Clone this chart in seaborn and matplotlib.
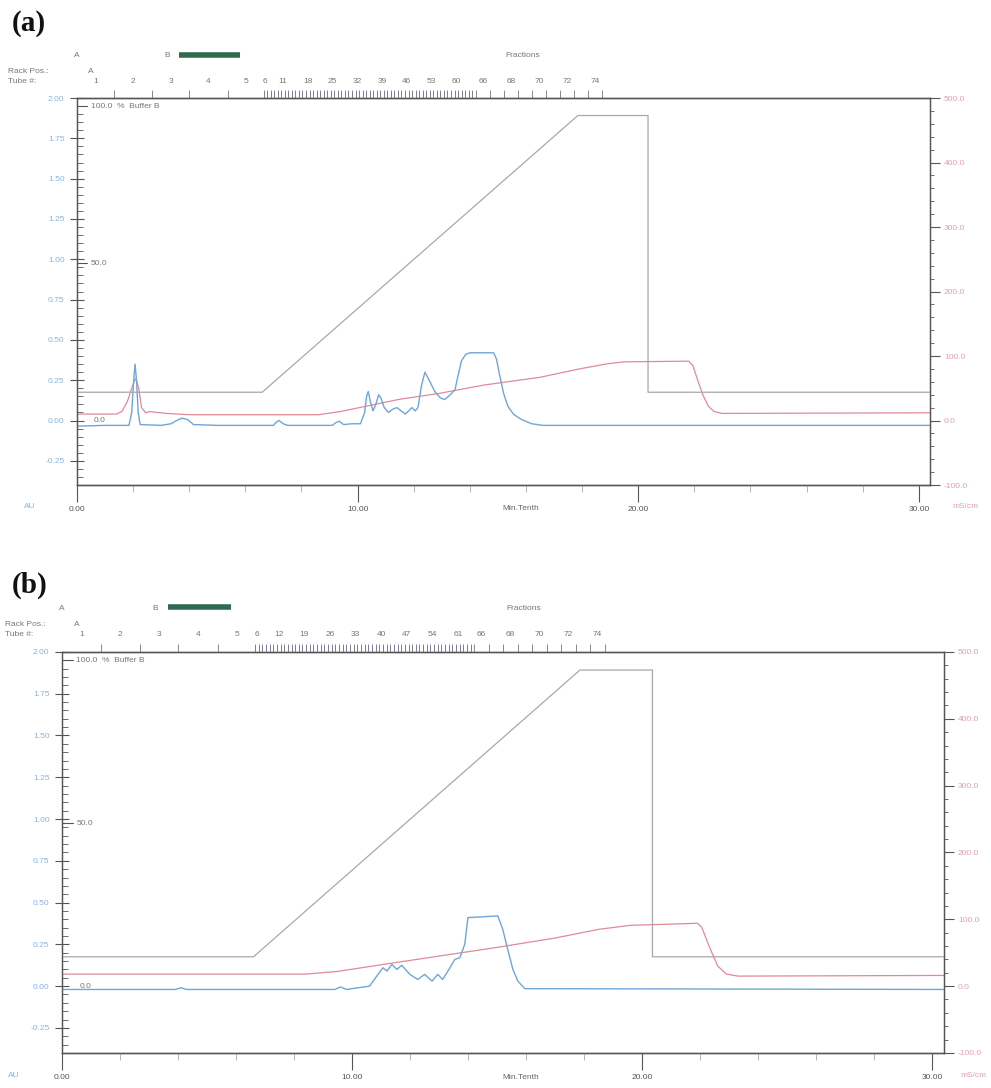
import numpy as np
import matplotlib
matplotlib.use("Agg")
import matplotlib.pyplot as plt
import matplotlib.transforms as mtransforms
from matplotlib.ticker import MultipleLocator
import seaborn as sns

sns.set_theme(style="white")
plt.rcParams['font.family'] = ['Liberation Sans', 'DejaVu Sans']

# ---- (a) UV 280 nm trace, AU
uv_a_t = [0.0, 1.0, 1.85, 1.95, 2.02, 2.07, 2.12, 2.18, 2.25, 3.0, 3.35, 3.55, 3.75, 3.95, 4.15,
          5.0, 7.0, 7.1, 7.2, 7.35, 7.5, 9.1, 9.25, 9.35, 9.5, 9.8, 10.1, 10.25, 10.32, 10.38,
          10.45, 10.55, 10.65, 10.75, 10.83, 10.95, 11.1, 11.25, 11.4, 11.55, 11.7, 11.82, 11.93,
          12.05, 12.15, 12.28, 12.4, 12.55, 12.75, 12.95, 13.1, 13.3, 13.47, 13.58, 13.7, 13.85,
          14.0, 14.85, 14.95, 15.05, 15.2, 15.35, 15.55, 15.8, 16.2, 16.6, 20.0, 30.4]
uv_a = [-0.035, -0.03, -0.03, 0.05, 0.25, 0.35, 0.25, 0.05, -0.025, -0.03, -0.02, 0.0, 0.015, 0.005, -0.025,
        -0.03, -0.03, -0.01, 0.0, -0.02, -0.03, -0.03, -0.01, -0.005, -0.025, -0.02, -0.02, 0.05, 0.15, 0.18,
        0.12, 0.06, 0.10, 0.16, 0.14, 0.08, 0.05, 0.07, 0.08, 0.06, 0.04, 0.06, 0.08,
        0.06, 0.08, 0.22, 0.30, 0.25, 0.18, 0.14, 0.13, 0.16, 0.19, 0.28, 0.37, 0.41,
        0.42, 0.42, 0.38, 0.29, 0.17, 0.09, 0.04, 0.01, -0.02, -0.03, -0.03, -0.03]

# ---- (a) conductivity, mS/cm
cond_a_t = [0.0, 1.4, 1.6, 1.8, 1.95, 2.05, 2.1, 2.2, 2.3, 2.45, 2.6, 2.75, 3.2, 4.0, 8.6, 9.4,
            10.5, 11.5, 12.9, 14.5, 16.5, 17.9, 18.9, 19.5, 21.8, 21.95, 22.1, 22.3, 22.5, 22.7, 23.0, 30.4]
cond_a = [10, 10, 14, 30, 50, 62, 65, 50, 20, 12, 14, 13, 11, 9, 9, 14,
          24, 33, 42, 55, 67, 80, 88, 91, 92, 85, 65, 40, 22, 14, 11, 12]

# ---- (b) UV trace, AU
uv_b_t = [0.0, 3.9, 4.1, 4.3, 9.4, 9.6, 9.8, 10.6, 10.89, 11.06, 11.2, 11.37, 11.54, 11.71, 11.99,
          12.26, 12.5, 12.75, 12.95, 13.12, 13.37, 13.54, 13.71, 13.88, 13.99, 15.02, 15.19, 15.36,
          15.54, 15.71, 15.95, 30.4]
uv_b = [-0.02, -0.02, -0.01, -0.02, -0.02, -0.005, -0.02, 0.0, 0.07, 0.11, 0.09, 0.13, 0.10, 0.125, 0.07,
        0.04, 0.07, 0.03, 0.07, 0.04, 0.11, 0.16, 0.17, 0.25, 0.41, 0.42, 0.34, 0.22,
        0.10, 0.03, -0.015, -0.02]

# ---- (b) conductivity, mS/cm
cond_b_t = [0.0, 8.4, 9.5, 11.0, 13.0, 15.0, 17.0, 18.5, 19.6, 21.9, 22.05, 22.3, 22.6, 22.9, 23.3, 30.4]
cond_b = [18, 18, 22, 32, 45, 58, 72, 85, 91, 94, 88, 60, 30, 18, 15, 16]

# ---- gradient, % buffer B (same method for both runs)
grad_t = [0.0, 6.6, 17.85, 20.35, 20.35, 30.4]
grad_b = [9, 9, 97, 97, 9, 9]

# ---- fraction collector
first_edges = [0.0, 1.33, 2.68, 4.0, 5.38, 6.65]   # tubes 1-5
first_tubes = [1, 2, 3, 4, 5]
small_start, small_step, n_small = 6.65, 0.126, 60   # tubes 6-65
big_step, n_big = 0.5, 10                            # tubes 66-75
labels_a = [6, 11, 18, 25, 32, 39, 46, 53, 60, 66, 68, 70, 72, 74]
labels_b = [6, 12, 19, 26, 33, 40, 47, 54, 61, 66, 68, 70, 72, 74]
buffer_b_bar = [3.65, 5.82]

AU_PER_PCT = 1.95 / 100

BLUE = "#6fa6d8"
RED = "#e08a98"
GRAY = "#a8a8a8"
AXC = "#555555"
TXT = "#777777"


def tube_start(n):
    if n <= 5:
        return first_edges[n - 1]
    if n <= 65:
        return small_start + (n - 6) * small_step
    return small_start + n_small * small_step + (n - 66) * big_step


def draw_panel(rect, tag, tag_y, left_x, unit_x, uv_t, uv, c_t, c, tube_labels):
    ax = fig.add_axes(rect)
    ax2 = ax.twinx()
    ax3 = ax.twinx()
    ax.set_zorder(3)
    ax.patch.set_visible(False)

    xmax = 30.4
    for a in (ax, ax2, ax3):
        a.set_xlim(0, xmax)
    ax.set_ylim(-0.4, 2.0)
    ax2.set_ylim(-100, 500)
    ax3.set_ylim(-0.4 / AU_PER_PCT, 2.0 / AU_PER_PCT)

    sns.lineplot(x=grad_t, y=grad_b, ax=ax3, color=GRAY, lw=0.9, estimator=None, sort=False)
    sns.lineplot(x=c_t, y=c, ax=ax2, color=RED, lw=0.9, estimator=None, sort=False)
    sns.lineplot(x=uv_t, y=uv, ax=ax, color=BLUE, lw=1.0, estimator=None, sort=False)
    for a in (ax, ax2, ax3):
        a.set_xlabel("")
        a.set_ylabel("")

    # spines
    for a in (ax, ax2, ax3):
        for s in a.spines.values():
            s.set_color(AXC)
            s.set_linewidth(0.9)
    ax3.spines['left'].set_visible(False)
    ax3.spines['right'].set_visible(False)

    # left AU axis
    ax.yaxis.set_major_locator(MultipleLocator(0.25))
    ax.yaxis.set_minor_locator(MultipleLocator(0.05))
    ax.yaxis.set_major_formatter(matplotlib.ticker.FormatStrFormatter("%.2f"))
    ax.tick_params(axis='y', which='major', direction='inout', length=10, width=0.8,
                   color=AXC, labelsize=6, labelcolor="#8ab4e0", pad=4, left=True)
    ax.tick_params(axis='y', which='minor', direction='in', length=4, width=0.6, color=AXC, left=True)

    # x axis
    ax.xaxis.set_major_locator(MultipleLocator(10))
    ax.xaxis.set_minor_locator(MultipleLocator(2))
    ax.xaxis.set_major_formatter(matplotlib.ticker.FormatStrFormatter("%.2f"))
    ax.tick_params(axis='x', which='major', direction='out', length=12, width=0.8,
                   color=AXC, labelsize=6, labelcolor="#555555", pad=3, bottom=True)
    ax.tick_params(axis='x', which='minor', direction='out', length=5, width=0.6, color="#aaaaaa", bottom=True)

    # right mS/cm axis
    ax2.yaxis.set_major_locator(MultipleLocator(100))
    ax2.yaxis.set_minor_locator(MultipleLocator(20))
    ax2.yaxis.set_major_formatter(matplotlib.ticker.FormatStrFormatter("%.1f"))
    ax2.tick_params(axis='y', which='major', direction='out', length=7, width=0.8,
                    color=AXC, labelsize=6, labelcolor="#e0a0aa", pad=3, right=True)
    ax2.tick_params(axis='y', which='minor', direction='out', length=3, width=0.6, color=AXC, right=True)

    # % buffer B scale, drawn inside the left spine
    ax3.set_yticks([])
    ax3.tick_params(axis='x', bottom=False, top=False)
    trans3 = mtransforms.blended_transform_factory(ax3.transAxes, ax3.transData)
    for pct, txt in [(100, "100.0  %  Buffer B"), (50, "50.0"), (0, "0.0")]:
        if pct > 0:
            ax3.plot([0, 0.012], [pct, pct], transform=trans3, color=AXC, lw=0.8)
        ax3.text(0.016 if pct > 0 else 0.02, pct, txt, transform=trans3, fontsize=6,
                 color=TXT, va='center', ha='left')

    # fraction collector marks along the top
    transf = mtransforms.blended_transform_factory(ax.transData, ax.transAxes)
    edges = first_edges + [tube_start(n) for n in range(7, 67 + n_big - 1)]
    ax.vlines(edges[1:], 1.0, 1.02, transform=transf, color=TXT, lw=0.6, clip_on=False)
    small = [tube_start(n) for n in range(6, 66)]
    ax.vlines(small, 1.0, 1.018, transform=transf, color="#7d7da0", lw=0.6, clip_on=False)
    for n in first_tubes:
        xc = (first_edges[n - 1] + first_edges[n]) / 2
        ax.text(xc, 1.04, str(n), transform=transf, fontsize=6, color=TXT, ha='center')
    for n in tube_labels:
        step = small_step if n <= 65 else big_step
        ax.text(tube_start(n) + step / 2, 1.04, str(n), transform=transf, fontsize=6,
                color=TXT, ha='center')

    # header texts
    ax.text(0.0, 1.105, "A", transform=transf, fontsize=6, color=TXT, ha='center')
    ax.text(3.2, 1.105, "B", transform=transf, fontsize=6, color=TXT, ha='center')
    ax.hlines(1.112, buffer_b_bar[0], buffer_b_bar[1], transform=transf, color="#2f6b50",
              lw=4, clip_on=False)
    ax.text(15.9, 1.105, "Fractions", transform=transf, fontsize=6, color=TXT, ha='center')
    ax.text(0.5, 1.065, "A", transform=transf, fontsize=6, color=TXT, ha='center')
    transl = mtransforms.blended_transform_factory(fig.transFigure, ax.transAxes)
    ax.text(left_x, 1.065, "Rack Pos.:", transform=transl, fontsize=6, color=TXT, ha='left')
    ax.text(left_x, 1.04, "Tube #:", transform=transl, fontsize=6, color=TXT, ha='left')
    fig.text(0.012, tag_y, tag, fontsize=21, fontweight='bold', family='Liberation Serif',
             color="#111111", ha='left', va='center')

    ax.text(-0.055, -0.06, "AU", transform=ax.transAxes, fontsize=6, color="#8ab4e0", ha='center')
    ax.text(unit_x, -0.06, "mS/cm", transform=transl, fontsize=6, color="#e0a0aa", ha='center')
    ax.text(0.52, -0.065, "Min.Tenth", transform=ax.transAxes, fontsize=6, color="#666666", ha='center')
    return ax


fig = plt.figure(figsize=(9.91, 10.88), dpi=100)
draw_panel([0.0777, 0.5542, 0.8608, 0.3557], "(a)", 0.978, 0.008, 0.974,
           uv_a_t, uv_a, cond_a_t, cond_a, labels_a)
draw_panel([0.0626, 0.0322, 0.890, 0.3686], "(b)", 0.462, 0.005, 0.982,
           uv_b_t, uv_b, cond_b_t, cond_b, labels_b)

fig.savefig("out.png", dpi=100, facecolor="white")
